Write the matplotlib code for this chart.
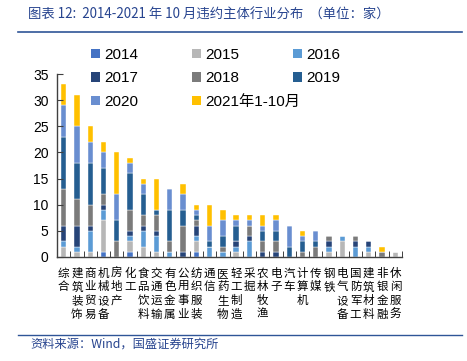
import matplotlib
matplotlib.use("Agg")
import matplotlib.pyplot as plt
import numpy as np
from matplotlib.lines import Line2D
from matplotlib.patches import Patch

plt.rcParams['font.family'] = ['Liberation Sans', 'Noto Sans CJK SC', 'DejaVu Sans']

categories = ["综合", "建筑装饰", "商业贸易", "机械设备", "房地产", "化工", "食品饮料",
              "交通运输", "有色金属", "公用事业", "纺织服装", "通信", "医药生物", "轻工制造",
              "采掘", "农林牧渔", "电子", "汽车", "计算机", "传媒", "钢铁", "电气设备",
              "国防军工", "建筑材料", "非银金融", "休闲服务"]

series_names = ["2014", "2015", "2016", "2017", "2018", "2019", "2020", "2021年1-10月"]

v2014 = [0, 0, 0, 1, 0, 1, 0, 0, 0, 0, 1, 0, 0, 0, 0, 0, 0, 0, 0, 0, 0, 0, 0, 0, 0, 0]
v2015 = [2, 1, 1, 6, 0, 2, 2, 1, 0, 0, 2, 0, 0, 1, 0, 0, 0, 0, 0, 0, 1, 3, 0, 1, 0, 1]
v2016 = [1, 1, 4, 2, 0, 1, 3, 3, 1, 0, 1, 2, 1, 1, 3, 0, 0, 0, 0, 0, 1, 1, 2, 1, 0, 0]
v2017 = [3, 4, 1, 1, 0, 1, 1, 1, 0, 1, 2, 0, 0, 1, 1, 1, 1, 0, 0, 0, 1, 0, 1, 1, 0, 0]
v2018 = [7, 5, 4, 2, 3, 4, 2, 3, 2, 5, 1, 0, 1, 0, 2, 2, 2, 0, 1, 2, 1, 0, 1, 0, 1, 0]
v2019 = [10, 7, 8, 5, 4, 7, 4, 1, 6, 3, 1, 1, 2, 3, 0, 2, 2, 2, 2, 1, 0, 0, 0, 0, 0, 0]
v2020 = [6, 7, 4, 3, 5, 2, 2, 0, 4, 3, 1, 3, 3, 1, 1, 1, 2, 4, 1, 2, 0, 0, 0, 0, 0, 0]
v2021 = [4, 6, 3, 2, 8, 1, 1, 6, 0, 2, 1, 4, 2, 1, 1, 2, 1, 0, 1, 0, 0, 0, 0, 0, 1, 0]

yticks = [0, 5, 10, 15, 20, 25, 30, 35]

all_series = [v2014, v2015, v2016, v2017, v2018, v2019, v2020, v2021]
colors = ["#4472C4", "#B7B7B7", "#5B9BD5", "#264478", "#7B7B7B", "#255E91", "#698ED0", "#FFC000"]

fig = plt.figure(figsize=(4.67, 3.61), dpi=100)
ax = fig.add_axes([57/467, 1-257/361, (402-57)/467, (257-74)/361])

x = np.arange(len(categories))
bottom = np.zeros(len(categories))
handles = []
for name, vals, c in zip(series_names, all_series, colors):
    vals = np.array(vals, dtype=float)
    ax.bar(x, vals, bottom=bottom, width=0.4, color=c, edgecolor='white', linewidth=0.3)
    bottom += vals
    handles.append(Patch(facecolor=c, edgecolor='none', label=name))

ax.set_xlim(-0.5, len(categories) - 0.5)
ax.set_ylim(0, 35)
ax.set_yticks(yticks)
ax.tick_params(axis='y', direction='in', length=4, labelsize=10, pad=6, color='#404040')
for s in ['top', 'right']:
    ax.spines[s].set_visible(False)
for s in ['left', 'bottom']:
    ax.spines[s].set_color('#404040')
    ax.spines[s].set_linewidth(1.0)

ax.set_xticks(x)
ax.set_xticklabels(["\n".join(list(c)) for c in categories], fontsize=8.3, va='top',
                   linespacing=1.06, family=['Noto Sans CJK SC'])
ax.tick_params(axis='x', length=0, pad=7)
ax.set_xticks(np.arange(len(categories) + 1) - 0.5, minor=True)
ax.tick_params(axis='x', which='minor', direction='in', length=4, color='#202020')

# legend: three columns placed at fixed positions, row-wise order
col_x = [91, 192, 293]
for ci in range(3):
    idxs = [i for i in range(len(series_names)) if i % 3 == ci]
    leg = fig.legend([handles[i] for i in idxs], [series_names[i] for i in idxs],
                     ncol=1, frameon=False, fontsize=11, loc='upper left',
                     bbox_to_anchor=(col_x[ci]/467, 1-48/361), handlelength=0.6,
                     handleheight=0.6, handletextpad=0.25, labelspacing=0.62,
                     borderaxespad=0, borderpad=0)

title_color = "#27448F"
fig.text(28/467, 1-15/361, "图表 12:  2014-2021 年 10 月违约主体行业分布  （单位：家）",
         fontsize=9.6, style='italic', color=title_color, va='center', ha='left',
         family=['Noto Sans CJK SC', 'DejaVu Sans'])
fig.add_artist(Line2D([18/467, 462/467], [1-32/361, 1-32/361], color="#2F5597", linewidth=1.2))
fig.add_artist(Line2D([18/467, 462/467], [1-335/361, 1-335/361], color="#2F5597", linewidth=1.0))
fig.text(30/467, 1-344/361, "资料来源：Wind，国盛证券研究所", fontsize=8.8, style='italic',
         color=title_color, va='center', ha='left', family=['Noto Sans CJK SC', 'DejaVu Sans'])

fig.savefig("out.png", dpi=100)
